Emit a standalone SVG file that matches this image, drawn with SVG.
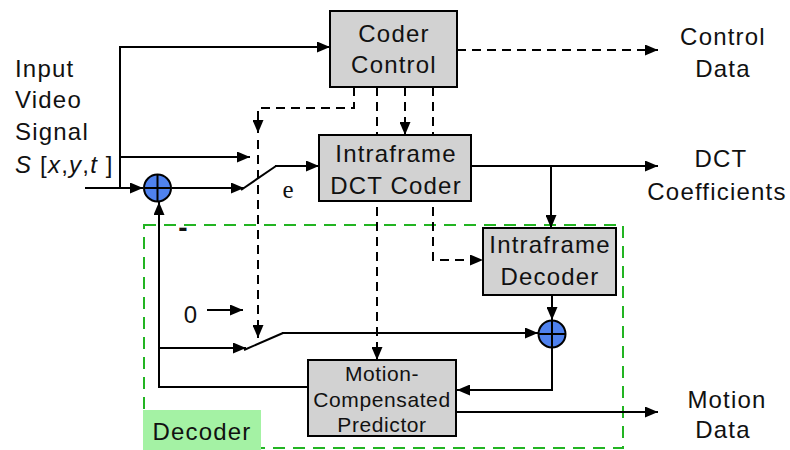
<svg xmlns="http://www.w3.org/2000/svg" width="790" height="450" viewBox="0 0 790 450">
<defs>
<marker id="ah" markerUnits="userSpaceOnUse" markerWidth="13" markerHeight="11" refX="13" refY="5.5" orient="auto">
<path d="M0,0 L13,5.5 L0,11 z" fill="#000"/>
</marker>
<style>
.ln{fill:none;stroke:#000;stroke-width:2}
.da{fill:none;stroke:#000;stroke-width:2;stroke-dasharray:9,6}
.box{fill:#d2d2d2;stroke:#000;stroke-width:2}
.t{font-family:"Liberation Sans",Arial,sans-serif;font-size:24px;letter-spacing:1.2px;fill:#111}
.c{text-anchor:middle}
.s{font-size:21px;letter-spacing:0.6px}
.add{fill:#4f82ef;stroke:#000;stroke-width:2}
</style>
</defs>
<rect width="790" height="450" fill="#fff"/>
<g id="decoder-region">
<rect x="144" y="225" width="479" height="223" fill="none" stroke="#22b422" stroke-width="2" stroke-dasharray="12,8"/>
<rect x="143" y="410" width="118" height="40" fill="#a4f2a4"/>
<text class="t c" x="202" y="440">Decoder</text>
</g>
<g id="connectors">
<path class="ln" d="M85,188 H143" marker-end="url(#ah)"/>
<path class="ln" d="M120,188 V47 H330" marker-end="url(#ah)"/>
<path class="ln" d="M120,157 H250" marker-end="url(#ah)"/>
<path class="ln" d="M172,188 H244" marker-end="url(#ah)"/>
<path class="ln" d="M241,190 L276,166"/>
<path class="ln" d="M275,166 H319" marker-end="url(#ah)"/>
<path class="ln" d="M471,166 H658" marker-end="url(#ah)"/>
<path class="ln" d="M551,166 V228" marker-end="url(#ah)"/>
<path class="da" d="M457,50 H658" marker-end="url(#ah)"/>
<path class="da" d="M354,87 V108 H258 V133" marker-end="url(#ah)"/>
<path class="da" d="M258,140 V338" marker-end="url(#ah)"/>
<path class="da" d="M377,87 V360" marker-end="url(#ah)"/>
<path class="da" d="M405,87 V135" marker-end="url(#ah)"/>
<path class="da" d="M433,87 V260 H483" marker-end="url(#ah)"/>
<path class="ln" d="M552,295 V320" marker-end="url(#ah)"/>
<path class="ln" d="M159,348 H246" marker-end="url(#ah)"/>
<path class="ln" d="M244,350 L283,333"/>
<path class="ln" d="M282,333 H538" marker-end="url(#ah)"/>
<path class="ln" d="M207,310 H243" marker-end="url(#ah)"/>
<path class="ln" d="M552,348 V390 H457" marker-end="url(#ah)"/>
<path class="ln" d="M308,387 H159 V202" marker-end="url(#ah)"/>
<path class="ln" d="M456,412 H658" marker-end="url(#ah)"/>
</g>
<g id="coder-control">
<rect class="box" x="330" y="11" width="127" height="76"/>
<text class="t c" x="394" y="42">Coder</text>
<text class="t c" x="394" y="73">Control</text>
</g>
<g id="dct-coder">
<rect class="box" x="319" y="135" width="152" height="66"/>
<text class="t c" x="396" y="162">Intraframe</text>
<text class="t c" x="396" y="194">DCT Coder</text>
</g>
<g id="intraframe-decoder">
<rect class="box" x="483" y="228" width="133" height="67"/>
<text class="t c" x="550" y="253">Intraframe</text>
<text class="t c" x="550" y="285">Decoder</text>
</g>
<g id="predictor">
<rect class="box" x="308" y="360" width="148" height="76"/>
<text class="t c s" x="382" y="381">Motion-</text>
<text class="t c s" x="382" y="407">Compensated</text>
<text class="t c s" x="382" y="432">Predictor</text>
</g>
<g id="adder-1">
<circle class="add" cx="157.5" cy="188" r="13.5"/>
<path class="ln" d="M144,188 H171 M157.5,174.5 V201.5"/>
</g>
<g id="adder-2">
<circle class="add" cx="552" cy="334" r="13.5"/>
<path class="ln" d="M538.5,334 H565.5 M552,320.5 V347.5"/>
</g>
<g id="labels">
<text class="t" x="15" y="77">Input</text>
<text class="t" x="15" y="108">Video</text>
<text class="t" x="15" y="140">Signal</text>
<text class="t" x="15" y="173"><tspan font-style="italic">S</tspan> [<tspan font-style="italic">x</tspan>,<tspan font-style="italic">y</tspan>,<tspan font-style="italic">t</tspan> ]</text>
<text class="t c" x="723" y="45">Control</text>
<text class="t c" x="723" y="77">Data</text>
<text class="t c" x="721" y="167">DCT</text>
<text class="t c" x="717" y="200">Coefficients</text>
<text class="t c" x="727" y="408">Motion</text>
<text class="t c" x="723" y="438">Data</text>
<text x="288" y="198" font-family="'Liberation Serif','Times New Roman',serif" font-size="25" text-anchor="middle" fill="#111">e</text>
<text x="183" y="237" font-family="'Liberation Sans',Arial,sans-serif" font-size="28" font-weight="bold" text-anchor="middle" fill="#111">-</text>
<text class="t c" x="191" y="323">0</text>
</g>
</svg>
